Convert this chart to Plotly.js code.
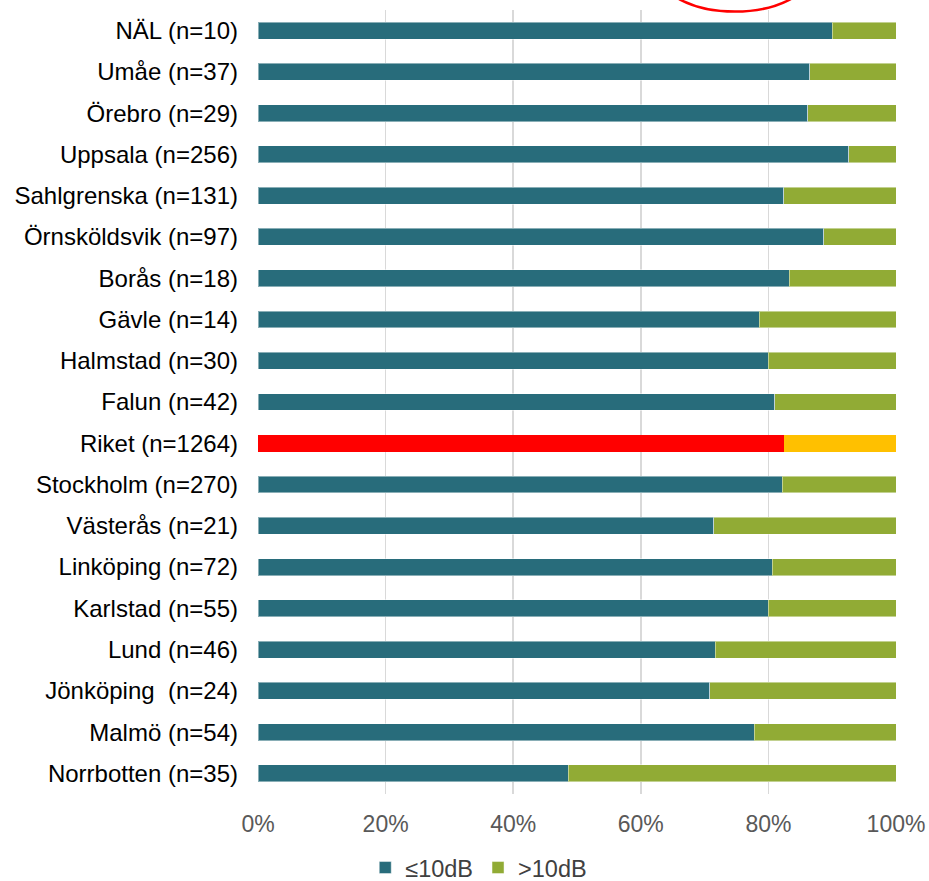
<!DOCTYPE html>
<html>
<head>
<meta charset="utf-8">
<script src="https://cdn.plot.ly/plotly-3.0.1.min.js"></script>
<style>html,body{margin:0;padding:0;background:#fff;}#chart{width:929px;height:881px;}</style>
</head>
<body>
<div id="chart"></div>
<script>
var categories = ["NÄL (n=10)","Umåe (n=37)","Örebro (n=29)","Uppsala (n=256)","Sahlgrenska (n=131)","Örnsköldsvik (n=97)","Borås (n=18)","Gävle (n=14)","Halmstad (n=30)","Falun (n=42)","Riket (n=1264)","Stockholm (n=270)","Västerås (n=21)","Linköping (n=72)","Karlstad (n=55)","Lund (n=46)","Jönköping\u00a0 (n=24)","Malmö (n=54)","Norrbotten (n=35)"];
var low = [90.0, 86.5, 86.2, 92.6, 82.4, 88.7, 83.3, 78.6, 80.0, 81.0, 82.4, 82.2, 71.4, 80.6, 80.0, 71.7, 70.8, 77.8, 48.6];
var high = [10.0, 13.5, 13.8, 7.4, 17.6, 11.3, 16.7, 21.4, 20.0, 19.0, 17.6, 17.8, 28.6, 19.4, 20.0, 28.3, 29.2, 22.2, 51.4];
var seriesNames = ["≤10dB", ">10dB"];
var xTicks = [0, 20, 40, 60, 80, 100];
var xTickLabels = ["0%", "20%", "40%", "60%", "80%", "100%"];
var highlight = "Riket (n=1264)";

var lowColors = categories.map(function(c){ return c === highlight ? "#FF0000" : "#286C7B"; });
var highColors = categories.map(function(c){ return c === highlight ? "#FFC000" : "#91AB35"; });
var lineColors = categories.map(function(c){ return c === highlight ? "rgba(0,0,0,0)" : "rgba(255,255,255,0.45)"; });

var traces = [
  {type:"bar", orientation:"h", name:seriesNames[0], y:categories, x:low,
   marker:{color:lowColors, line:{color:lineColors, width:1}}, hoverinfo:"none"},
  {type:"bar", orientation:"h", name:seriesNames[1], y:categories, x:high,
   marker:{color:highColors, line:{color:lineColors, width:1}}, hoverinfo:"none"}
];

var layout = {
  width:929, height:881,
  margin:{l:258, r:33, t:10, b:87, autoexpand:false},
  barmode:"stack",
  bargap:0.59,
  paper_bgcolor:"#fff", plot_bgcolor:"#fff",
  font:{family:"Liberation Sans, Arial, sans-serif", color:"#000"},
  xaxis:{range:[0,100], tickvals:xTicks, ticktext:xTickLabels, showgrid:true,
         gridcolor:"#D9D9D9", gridwidth:1.5, zeroline:false, showline:false,
         ticks:"", tickfont:{size:23, color:"#595959"}, ticklabelstandoff:14, fixedrange:true, automargin:false},
  yaxis:{type:"category", autorange:"reversed", showgrid:false, zeroline:false,
         showline:false, ticks:"", tickfont:{size:24, color:"#000"}, ticklabelstandoff:19, fixedrange:true, automargin:false},
  showlegend:true,
  legend:{orientation:"h", x:0.346, xanchor:"center", yref:"container", y:0.040, yanchor:"top",
          font:{size:23.5, color:"#404040"}, traceorder:"normal"},
  shapes:[{type:"circle", xref:"x", yref:"paper", x0:62.7, x1:86.8, y0:0.998, y1:1.10,
           line:{color:"#FF0000", width:2.5}, fillcolor:"rgba(0,0,0,0)"}]
};
Plotly.newPlot("chart", traces, layout, {displayModeBar:false, staticPlot:true});
</script>
</body>
</html>
